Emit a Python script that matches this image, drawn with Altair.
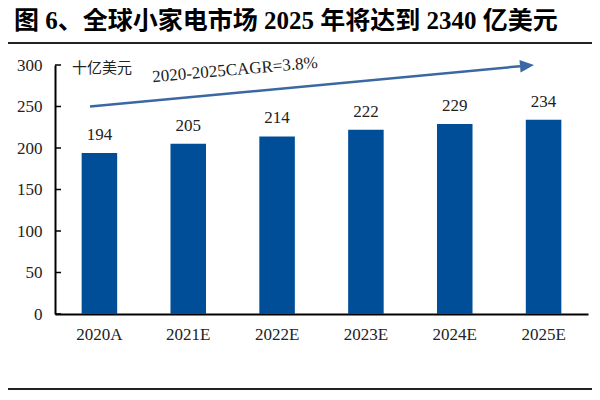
import altair as alt
import pandas as pd

categories = ["2020A", "2021E", "2022E", "2023E", "2024E", "2025E"]
values = [194, 205, 214, 222, 229, 234]
y_ticks = [0, 50, 100, 150, 200, 250, 300]
title_text = "图 6、全球小家电市场 2025 年将达到 2340 亿美元"
unit_text = "十亿美元"
cagr_text = "2020-2025CAGR=3.8%"
arrow_start = 250
arrow_end = 298.5
arrow_head = 299.3

df = pd.DataFrame({"year": categories, "value": values})

SERIF = "Liberation Serif, Times New Roman, serif"
MIXED = "Liberation Serif, Noto Sans CJK SC, serif"
CJK = "Noto Sans CJK SC"
BAR = "#004E98"
ARROW = "#3B67A3"
TXT = "#222222"

xscale = alt.Scale(paddingInner=0.6, paddingOuter=0.3)
yscale = alt.Scale(domain=[0, 300])
xaxis = alt.Axis(title=None, labelAngle=0, labelFont=SERIF, labelFontSize=17,
                 labelColor=TXT, labelPadding=12, ticks=False,
                 domainColor="#000000", domainWidth=2)
yaxis = alt.Axis(title=None, values=y_ticks, labelFont=SERIF, labelFontSize=17,
                 labelColor=TXT, labelPadding=13, ticks=False, grid=False,
                 domainColor="#000000", domainWidth=2)


def X(field):
    return alt.X(field, sort=categories, scale=xscale, axis=xaxis)


def Y(field):
    return alt.Y(field, scale=yscale, axis=yaxis)


base = alt.Chart(df)
bars = base.mark_bar(color=BAR).encode(x=X("year:N"), y=Y("value:Q"))
labels = base.mark_text(font=SERIF, fontSize=17, color=TXT, dy=-13,
                        baseline="alphabetic").encode(
    x=X("year:N"), y=Y("value:Q"), text="value:Q")

ticks = alt.Chart(pd.DataFrame({"t": y_ticks})).mark_rule(
    color="#000000", strokeWidth=1.5).encode(
    y=Y("t:Q"), x=alt.value(0), x2=alt.value(6))

arrow_line = alt.Chart(alt.Data(values=[{"a": arrow_start, "b": arrow_end}])).mark_rule(
    color=ARROW, strokeWidth=2.5).encode(
    y=Y("a:Q"), y2="b:Q", x=alt.value(35), x2=alt.value(465))

arrow_tip = alt.Chart(alt.Data(values=[{"h": arrow_head}])).mark_point(
    shape="M-1,-0.9L1,0L-1,0.9Z", filled=True, size=196, angle=355,
    color=ARROW, opacity=1).encode(y=Y("h:Q"), x=alt.value(472))

title = alt.Chart(alt.Data(values=[{"t": title_text}])).mark_text(
    font=MIXED, fontSize=25, fontWeight="bold", color="#000000",
    align="left", baseline="alphabetic").encode(
    text="t:N", x=alt.value(-41), y=alt.value(-36))

unit = alt.Chart(alt.Data(values=[{"t": unit_text}])).mark_text(
    font=CJK, fontSize=15, color=TXT, align="left", baseline="middle").encode(
    text="t:N", x=alt.value(17), y=alt.value(3))

cagr = alt.Chart(alt.Data(values=[{"t": cagr_text}])).mark_text(
    font=SERIF, fontSize=17, color=TXT, align="center", baseline="middle",
    angle=355).encode(text="t:N", x=alt.value(180), y=alt.value(5))

top_line = alt.Chart(alt.Data(values=[{}])).mark_rule(
    color="#222222", strokeWidth=2).encode(
    x=alt.value(-47), x2=alt.value(537), y=alt.value(-22))
bottom_line = alt.Chart(alt.Data(values=[{}])).mark_rule(
    color="#222222", strokeWidth=2).encode(
    x=alt.value(-47), x2=alt.value(537), y=alt.value(324))

chart = alt.layer(
    bars, labels, ticks, arrow_line, arrow_tip, title, unit, cagr, top_line, bottom_line
).properties(
    width=533, height=249,
    autosize=alt.AutoSizeParams(type="none"),
    padding={"left": 47, "top": 57, "right": 4, "bottom": 77},
).configure_view(stroke=None)

chart.save("out.html", embed_options={"renderer": "svg", "actions": False})
